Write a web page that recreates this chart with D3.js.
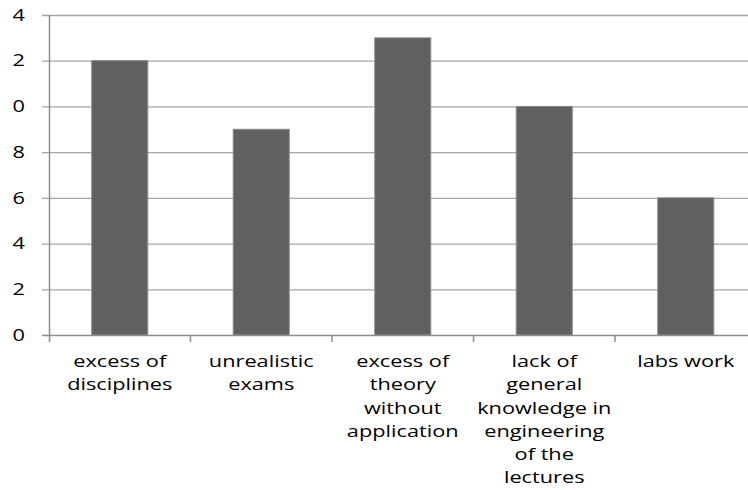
<!DOCTYPE html>
<html><head><meta charset="utf-8">
<script src="https://cdn.jsdelivr.net/npm/d3@7"></script>
<style>body{margin:0;background:#fff}svg{display:block}</style>
</head><body>
<svg id="c" width="748" height="490"></svg>
<script>
const categories = ["excess of disciplines","unrealistic exams","excess of theory without application","lack of general knowledge in engineering of the lectures","labs work"];
const categoryLines = [["excess of","disciplines"],["unrealistic","exams"],["excess of","theory","without","application"],["lack of","general","knowledge in","engineering","of the","lectures"],["labs work"]];
const values = [12, 9, 13, 10, 6];
const tickValues = [0, 2, 4, 6, 8, 10, 12, 14];
const tickLabels = ["0", "2", "4", "6", "8", "0", "2", "4"];

const svg = d3.select("#c");
const mLeft = 49, mTop = 15, mBottom = 335, step = 141.5;
const x = d3.scaleBand().domain(categories).range([mLeft, mLeft + step * categories.length])
  .paddingInner(0.604).paddingOuter(0.302);
const y = d3.scaleLinear().domain([0, 14]).range([mBottom, mTop]);
const font = "'Open Sans', sans-serif";
const sx = 1.36;

// gridlines
svg.append("g").selectAll("line").data(tickValues.filter(d => d > 0)).join("line")
  .attr("x1", mLeft - 7).attr("x2", 748)
  .attr("y1", d => y(d) + 0.5).attr("y2", d => y(d) + 0.5)
  .attr("stroke", "#a6a6a6").attr("stroke-width", 1.3);

// y tick labels
svg.append("g").selectAll("text").data(tickValues).join("text")
  .attr("transform", d => `translate(25,${y(d)}) scale(${sx},1)`).attr("dy", "0.36em")
  .attr("text-anchor", "end").attr("font-family", font).attr("font-size", 16).attr("fill", "#000")
  .text((d, i) => tickLabels[i]);

// bars
svg.append("g").selectAll("rect").data(values).join("rect")
  .attr("x", (d, i) => x(categories[i])).attr("width", x.bandwidth())
  .attr("y", d => y(d)).attr("height", d => y(0) - y(d))
  .attr("fill", "#606060").attr("stroke", "#8a8a8a").attr("stroke-width", 1);

// axes lines
svg.append("line").attr("x1", mLeft - 7).attr("x2", 748).attr("y1", y(0) + 0.5).attr("y2", y(0) + 0.5)
  .attr("stroke", "#8c8c8c").attr("stroke-width", 1.5);
svg.append("line").attr("x1", mLeft + 0.5).attr("x2", mLeft + 0.5).attr("y1", mTop).attr("y2", y(0) + 7)
  .attr("stroke", "#8c8c8c").attr("stroke-width", 1.5);
// category ticks
const bounds = d3.range(categories.length + 1).map(i => mLeft + i * x.step());
svg.append("g").selectAll("line").data(bounds.slice(1)).join("line")
  .attr("x1", d => d).attr("x2", d => d).attr("y1", y(0)).attr("y2", y(0) + 7)
  .attr("stroke", "#8c8c8c").attr("stroke-width", 1.5);

// category labels
const lg = svg.append("g").selectAll("text").data(categories).join("text")
  .attr("transform", d => `translate(${x(d) + x.bandwidth() / 2},0) scale(${sx},1)`)
  .attr("text-anchor", "middle").attr("font-family", font).attr("font-size", 16).attr("fill", "#000");
lg.each(function(d, i) {
  d3.select(this).selectAll("tspan").data(categoryLines[i]).join("tspan")
    .attr("x", 0).attr("y", (t, j) => 367 + j * 23.3).text(t => t);
});
</script>
</body></html>
